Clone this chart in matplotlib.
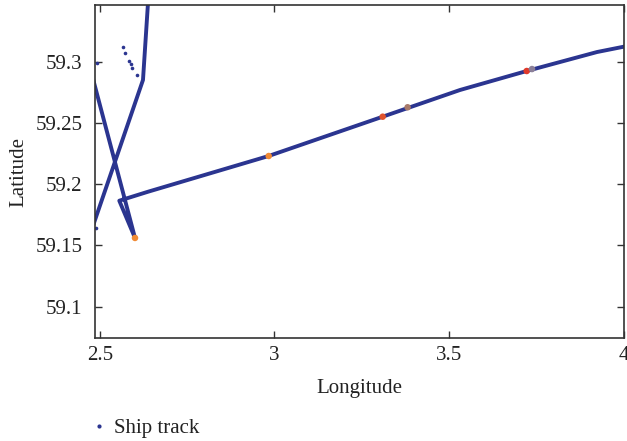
import matplotlib
matplotlib.use("Agg")
import matplotlib.pyplot as plt
from matplotlib.lines import Line2D

# Continuous ship track (longitude, latitude), parts run outside the view
track_lon = [2.6418, 2.6232, 2.4799, 2.4430, 2.4771, 2.6003, 2.5553, 2.6384,
             2.9831, 3.3100, 3.5315, 3.7226, 3.9241, 4.0473]
track_lat = [59.3667, 59.2851, 59.1659, 59.2300, 59.2891, 59.1561, 59.1865, 59.1939,
             59.2230, 59.2551, 59.2769, 59.2924, 59.3079, 59.3149]

# Sparse fixes where the track is not continuous
sparse_lon = [2.5650, 2.5716, 2.5831, 2.5880, 2.5926, 2.6052, 2.4900, 2.4885]
sparse_lat = [59.3122, 59.3069, 59.3008, 59.2981, 59.2951, 59.2889, 59.2993, 59.1641]

# Highlighted positions along the track
event_lon = [2.6003, 2.9834, 3.3100, 3.3814, 3.7226, 3.7378]
event_lat = [59.1561, 59.2230, 59.2551, 59.2628, 59.2924, 59.2940]
event_colors = ["#f08a35", "#f08a35", "#e0532d", "#a87a6a", "#e03a2b", "#8c8098"]

x_ticks = [2.5, 3.0, 3.5, 4.0]
x_tick_labels = ["2.5", "3", "3.5", "4"]
y_ticks = [59.1, 59.15, 59.2, 59.25, 59.3]
y_tick_labels = ["59.1", "59.15", "59.2", "59.25", "59.3"]

track_color = "#2b3590"

plt.rcParams["font.family"] = ["Liberation Serif", "DejaVu Serif"]

fig = plt.figure(figsize=(6.27, 4.41), dpi=100)
ax = fig.add_axes([95 / 627, 1 - 338 / 441, 529 / 627, 333 / 441])

ax.plot(track_lon, track_lat, "-", color=track_color, lw=2.8,
        solid_joinstyle="round", solid_capstyle="round")
ax.plot(sparse_lon, sparse_lat, "o", color=track_color, ms=2.6, mec="none")
ax.scatter(event_lon, event_lat, s=22, c=event_colors, zorder=3, edgecolors="none")

ax.set_xlim(2.4857, 4.0014)
ax.set_ylim(59.0744, 59.3463)
ax.set_xticks(x_ticks)
ax.set_xticklabels(x_tick_labels)
ax.set_yticks(y_ticks)
ax.set_yticklabels(y_tick_labels)

ax.tick_params(direction="in", length=5, width=1.0, top=True, right=True,
               labelsize=15, colors="#333333", labelcolor="#222222")
ax.tick_params(axis="x", pad=6)
ax.tick_params(axis="y", pad=9)
for sp in ax.spines.values():
    sp.set_linewidth(1.2)
    sp.set_color("#333333")

ax.set_xlabel("Longitude", fontsize=15, color="#222222", labelpad=10)
ax.set_ylabel("Latitude", fontsize=15, color="#222222", labelpad=5)

handle = Line2D([], [], linestyle="none", marker="o", ms=3, color=track_color, mec="none")
fig.legend([handle], ["Ship track"], loc="center left",
           bbox_to_anchor=(70 / 627, 1 - 428 / 441), frameon=False,
           fontsize=15, handlelength=1.0, handletextpad=0.2, labelcolor="#222222")

fig.savefig("out.png", dpi=100)
